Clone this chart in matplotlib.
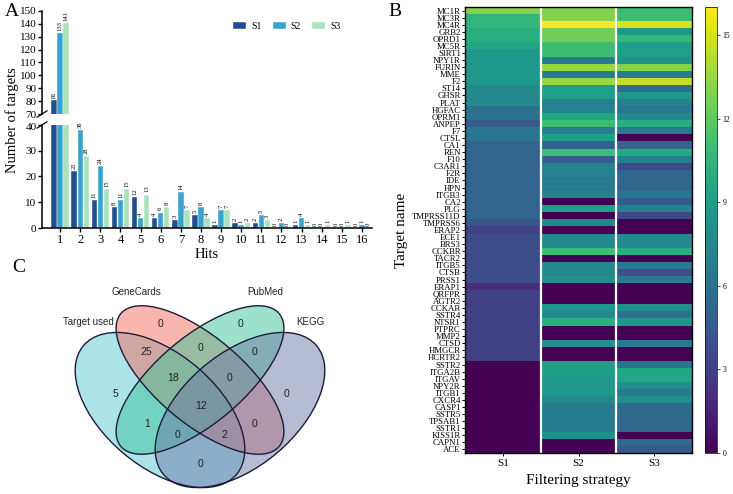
import matplotlib
matplotlib.use('Agg')
import matplotlib.pyplot as plt
import matplotlib.transforms as mtransforms
import numpy as np
from matplotlib.patches import Ellipse

plt.rcParams['font.family'] = ['Liberation Serif', 'DejaVu Serif']

# ---- 数据 A: 命中次数分布
hits = np.arange(1, 17)
s1_counts = [81, 22, 11, 8, 12, 4, 3, 5, 1, 2, 2, 0, 1, 0, 0, 0]
s2_counts = [133, 38, 24, 11, 4, 6, 14, 8, 7, 1, 5, 2, 4, 0, 0, 1]
s3_counts = [141, 28, 15, 15, 13, 8, 7, 4, 7, 2, 3, 0, 1, 1, 1, 0]
series_names = ['S1', 'S2', 'S3']

# ---- 数据 B: 热图
targets = ['MC1R', 'MC3R', 'MC4R', 'GRB2', 'OPRD1', 'MC5R', 'SIRT1', 'NPY1R', 'FURIN', 'MME',
           'F2', 'ST14', 'GHSR', 'PLAT', 'HGFAC', 'OPRM1', 'ANPEP', 'F7', 'CTSL', 'CA1',
           'REN', 'F10', 'C3AR1', 'F2R', 'IDE', 'HPN', 'ITGB3', 'CA2', 'PLG', 'TMPRSS11D',
           'TMPRSS6', 'ERAP2', 'ECE1', 'BRS3', 'CCKBR', 'TACR2', 'ITGB5', 'CTSB', 'PRSS1', 'ERAP1',
           'QRFPR', 'AGTR2', 'CCKAR', 'SSTR4', 'NTSR1', 'PTPRC', 'MMP2', 'CTSD', 'HMGCR', 'HCRTR2',
           'SSTR2', 'ITGA2B', 'ITGAV', 'NPY2R', 'ITGB1', 'CXCR4', 'CASP1', 'SSTR5', 'TPSAB1', 'SSTR1',
           'KISS1R', 'CAPN1', 'ACE']
heat_s1 = [13, 10.5, 10.5, 10, 10, 9.5, 8.5, 8.5, 8.5, 8.5,
           8.5, 7.5, 7.5, 7.5, 6, 6, 4.5, 6.3, 6.3, 5.2,
           5.2, 5.2, 5.2, 5.2, 5.2, 5.2, 5.2, 5.2, 5.2, 5.2,
           4.3, 3.1, 3.8, 3.8, 3.8, 3.8, 3.8, 3.8, 3.8, 2.2,
           3, 3, 3, 3, 3, 3, 3, 3, 3, 3,
           0, 0, 0, 0, 0, 0, 0, 0, 0, 0,
           0, 0, 0]
heat_s2 = [13, 13, 16, 12.5, 12.5, 11, 11, 6.5, 13.5, 6.5,
           13.5, 9, 9, 7, 7, 9.5, 11, 7, 9, 5,
           11, 4.8, 7, 7, 6.5, 6.5, 7, 0, 9, 0,
           7.5, 0, 7.5, 7.5, 11, 0, 7.5, 7.5, 8, 0,
           0, 0, 8.5, 7.5, 10, 0, 0, 8, 0, 0,
           9, 9, 8.5, 8.5, 8.5, 7.5, 6.5, 6.5, 6.5, 6.5,
           8, 0, 0]
heat_s3 = [11, 11, 15, 8.5, 10.5, 9, 9, 8, 13, 6.5,
           14.5, 5.5, 8.5, 7, 6.3, 7.5, 10, 6.5, 0, 5.2,
           9.8, 7, 3.5, 5.2, 5.2, 5.2, 6.3, 4.5, 7, 3.5,
           0, 0, 7.5, 7.5, 10, 0, 6.5, 4, 6.5, 0,
           0, 0, 8, 6, 8.5, 0, 0, 6.5, 0, 0,
           6, 9.5, 9.5, 8, 6.5, 8, 5.5, 5.5, 5.5, 5.5,
           0, 5.5, 4.5]

# ---- 数据 C: 韦恩图
set_names = ['Target used', 'GeneCards', 'PubMed', 'KEGG']
venn_counts = [5, 0, 0, 0, 25, 0, 0, 18, 0, 12, 1, 0, 0, 2, 0]

W, H = 733, 494
fig = plt.figure(figsize=(W / 100, H / 100), dpi=100)


def px_box(x0, y0, x1, y1):
    # 像素坐标 -> figure 坐标
    return [x0 / W, 1 - y1 / H, (x1 - x0) / W, (y1 - y0) / H]


# ================= A =================
bar_colors = ['#1f4f8d', '#38a3d1', '#a9e2bb']
ax_top = fig.add_axes(px_box(42, 11, 372, 114))
ax_bot = fig.add_axes(px_box(42, 125, 372, 228))
bw = 0.27
for i, vals in enumerate([s1_counts, s2_counts, s3_counts]):
    xs = hits + (i - 1) * 0.3
    for ax in (ax_top, ax_bot):
        ax.bar(xs, vals, bw, color=bar_colors[i], edgecolor='white', linewidth=0.3,
               label=series_names[i] if ax is ax_top else None)
    for x, v in zip(xs, vals):
        ax = ax_top if v > 40 else ax_bot
        ax.annotate(str(v), (x, v), xytext=(0, 1.5), textcoords='offset points',
                    rotation=90, ha='center', va='bottom', fontsize=4.7)

ax_top.set_ylim(70, 150)
ax_bot.set_ylim(0, 40)
for ax in (ax_top, ax_bot):
    ax.set_xlim(0.1, 16.5)
    ax.spines['top'].set_visible(False)
    ax.spines['right'].set_visible(False)
    ax.spines['left'].set_linewidth(1.1)
    ax.spines['bottom'].set_linewidth(1.1)
    ax.tick_params(axis='y', labelsize=8, length=3, width=1, pad=1)
ax_top.set_yticks(np.arange(70, 151, 10))
ax_bot.set_yticks(np.arange(0, 41, 10))
ax_top.spines['bottom'].set_visible(False)
ax_top.set_xticks([])
ax_bot.set_xticks(hits)
ax_bot.tick_params(axis='x', labelsize=9, length=3, width=1, pad=1)
ax_bot.set_xlabel('Hits', fontsize=10.5, labelpad=2)

# 40 的刻度标签稍微下移，避免和 70 重叠
down = mtransforms.ScaledTranslation(0, -1.3 / 72, fig.dpi_scale_trans)
lab40 = ax_bot.get_yticklabels()[-1]
lab40.set_transform(lab40.get_transform() + down)

# 断轴标记
d = 0.025
for ax, yy in ((ax_top, 0), (ax_bot, 1)):
    ax.plot([-d * 0.6, d * 0.6], [yy - d * 1.2, yy + d * 1.2], transform=ax.transAxes,
            color='black', lw=0.9, clip_on=False)

ax_top.legend(loc='upper right', bbox_to_anchor=(0.93, 0.98), ncol=3, frameon=False,
              fontsize=7, handlelength=1.3, handleheight=0.8, columnspacing=1.2,
              handletextpad=0.5)
fig.text(12 / W, 1 - 120 / H, 'Number of targets', rotation=90, ha='center', va='center',
         fontsize=10.5)
fig.text(5 / W, 1 - 12 / H, 'A', fontsize=14, ha='left', va='center')

# ================= B =================
heat = np.array([heat_s1, heat_s2, heat_s3]).T
ax_h = fig.add_axes(px_box(465, 7, 692, 453))
im = ax_h.imshow(heat, aspect='auto', cmap='viridis', vmin=0, vmax=16,
                 interpolation='nearest')
ax_h.axvline(0.5, color='white', lw=1.6)
ax_h.axvline(1.5, color='white', lw=1.6)
ax_h.set_xticks(range(3))
ax_h.set_xticklabels(series_names, fontsize=8)
ax_h.set_yticks(range(len(targets)))
ax_h.set_yticklabels(targets, fontsize=6.3)
ax_h.tick_params(axis='y', length=2, width=0.7, pad=1)
ax_h.tick_params(axis='x', length=2.5, width=0.7, pad=2)
for sp in ax_h.spines.values():
    sp.set_linewidth(1)
ax_h.set_xlabel('Filtering strategy', fontsize=11, labelpad=4)
ax_h.set_ylabel('Target name', fontsize=11, labelpad=3)

cax = fig.add_axes(px_box(705, 7, 717, 453))
cb = fig.colorbar(im, cax=cax, ticks=[0, 3, 6, 9, 12, 15])
cb.ax.tick_params(labelsize=5.5, length=2, width=0.5, pad=2)
cb.outline.set_linewidth(0.5)
fig.text(388 / W, 1 - 12 / H, 'B', fontsize=14, ha='left', va='center')

# ================= C =================
ax_v = fig.add_axes([0, 0, 370 / W, 244 / H])
ax_v.set_xlim(0, 1110)
ax_v.set_ylim(732, 0)
ax_v.axis('off')

venn_fill = ['#5bc8d5', '#f36f5e', '#3cc49a', '#6d7aa8']
ell_specs = [((480, 480), 600, 340, 40), ((600, 390), 620, 260, 40),
             ((600, 390), 620, 260, -40), ((720, 480), 600, 340, -40)]
for (c, w, h, ang), col in zip(ell_specs, venn_fill):
    ax_v.add_patch(Ellipse(c, w, h, angle=ang, facecolor=col, alpha=0.5, edgecolor='none'))
for (c, w, h, ang) in ell_specs:
    ax_v.add_patch(Ellipse(c, w, h, angle=ang, fill=False, edgecolor='#1c1c3a', lw=1))

count_pos = [(345, 432), (483, 222), (722, 222), (858, 432), (440, 305), (600, 295),
             (765, 305), (518, 385), (688, 385), (603, 468), (440, 522), (765, 522),
             (533, 555), (672, 555), (603, 643)]
for (x, y), n in zip(count_pos, venn_counts):
    ax_v.text(x, y, str(n), ha='center', va='center', fontsize=7.5,
              family='Liberation Sans', color='#222222')

label_pos = [(265, 215), (408, 125), (797, 125), (930, 215)]
for (x, y), name in zip(label_pos, set_names):
    ax_v.text(x, y, name, ha='center', va='center', fontsize=7,
              family='Liberation Sans', color='#222222')
fig.text(12 / W, 1 - 268 / H, 'C', fontsize=14, ha='left', va='center')

fig.savefig('out.png', dpi=100)
